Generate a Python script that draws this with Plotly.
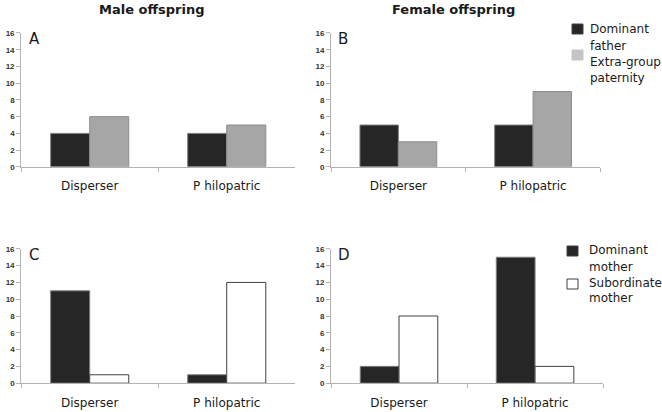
import plotly.graph_objects as go
from plotly.subplots import make_subplots

categories = ["Disperser", "P hilopatric"]

# paternity (top row)
male_dom_father = [4, 4]
male_extra_group = [6, 5]
female_dom_father = [5, 5]
female_extra_group = [3, 9]

# maternity (bottom row)
male_dom_mother = [11, 1]
male_sub_mother = [1, 12]
female_dom_mother = [2, 15]
female_sub_mother = [8, 2]

panel_letters = ["A", "B", "C", "D"]
y_ticks = [0, 2, 4, 6, 8, 10, 12, 14, 16]

DARK = "#262626"
GREY = "#a6a6a6"
AXIS = "#b3b3b3"
FONT = "DejaVu Sans"
W, H = 662, 412

fig = make_subplots(rows=2, cols=2)

def add_pair(row, col, v1, v2, n1, n2, c2, line2):
    fig.add_trace(go.Bar(x=categories, y=v1, name=n1, marker=dict(color=DARK, line=dict(color="#7f7f7f", width=1)),
                         showlegend=False), row=row, col=col)
    fig.add_trace(go.Bar(x=categories, y=v2, name=n2, marker=dict(color=c2, line=dict(color=line2, width=1)),
                         showlegend=False), row=row, col=col)

add_pair(1, 1, male_dom_father, male_extra_group, "Dominant father", "Extra-group paternity", GREY, "#8c8c8c")
add_pair(1, 2, female_dom_father, female_extra_group, "Dominant father", "Extra-group paternity", GREY, "#8c8c8c")
add_pair(2, 1, male_dom_mother, male_sub_mother, "Dominant mother", "Subordinate mother", "white", "#404040")
add_pair(2, 2, female_dom_mother, female_sub_mother, "Dominant mother", "Subordinate mother", "white", "#404040")

# panel positions
xdoms = [[0.032, 0.446], [0.500, 0.907], [0.032, 0.446], [0.500, 0.911]]
ydoms = [[0.595, 0.920], [0.595, 0.920], [0.070, 0.396], [0.070, 0.396]]
for i in range(4):
    sfx = "" if i == 0 else str(i + 1)
    fig.layout["xaxis" + sfx].update(domain=xdoms[i], showline=True, linecolor=AXIS, linewidth=1, automargin=False,
                                    ticks="outside", tickson="boundaries", ticklen=4, tickcolor=AXIS,
                                    ticklabelstandoff=8,
                                    tickfont=dict(family=FONT, size=12, color="#1a1a1a"), showgrid=False)
    fig.layout["yaxis" + sfx].update(domain=ydoms[i], range=[0, 16], tickvals=y_ticks, showline=True,
                                    automargin=False,
                                    linecolor=AXIS, linewidth=1, ticks="outside", ticklen=4, tickcolor=AXIS,
                                    tickfont=dict(family="Liberation Sans", size=8, color="#333333", weight="bold"),
                                    showgrid=False, zeroline=False)
    fig.add_annotation(text=panel_letters[i], xref="x%s domain" % sfx, yref="y%s domain" % sfx,
                       x=0.02, y=1.035, xanchor="left", yanchor="top", showarrow=False,
                       font=dict(family=FONT, size=15, color="#1a1a1a"))

fig.add_annotation(text="<b>Male offspring</b>", xref="paper", yref="paper", x=151 / W, y=1.0,
                   xanchor="center", yanchor="top",
                   showarrow=False, font=dict(family=FONT, size=13, color="#1a1a1a"))
fig.add_annotation(text="<b>Female offspring</b>", xref="paper", yref="paper", x=453 / W, y=1.0,
                   xanchor="center", yanchor="top",
                   showarrow=False, font=dict(family=FONT, size=13, color="#1a1a1a"))

# hand-placed legends (two separate keys, one per row)
legend_squares = [
    # (left, top, fill, outline)
    (572, 24, DARK, "#404040"),
    (572, 50, "#c4c4c4", "#c4c4c4"),
    (567, 246, DARK, "#404040"),
    (567, 279, "white", "#404040"),
]
legend_lines = [
    # (text left, centre y, text)
    (588, 29, "Dominant"), (588, 46, "father"), (588, 62, "Extra-group"), (588, 78, "paternity"),
    (587, 250, "Dominant"), (587, 267, "mother"), (587, 283, "Subordinate"), (587, 298, "mother"),
]
for sx, sy, fill, outline in legend_squares:
    fig.add_shape(type="rect", xref="paper", yref="paper",
                  x0=sx / W, x1=(sx + 11) / W, y0=1 - (sy + 10) / H, y1=1 - sy / H,
                  fillcolor=fill, line=dict(color=outline, width=1))
for tx, ty, label in legend_lines:
    fig.add_annotation(text=label, xref="paper", yref="paper", x=tx / W, y=1 - ty / H,
                       xanchor="left", yanchor="middle", align="left", showarrow=False,
                       font=dict(family=FONT, size=12, color="#1a1a1a"))

fig.update_layout(
    width=W, height=H, margin=dict(l=0, r=0, t=0, b=0),
    paper_bgcolor="white", plot_bgcolor="white",
    barmode="group", bargap=0.43, bargroupgap=0,
)

# page body has a default margin; drop it so the figure starts at the window corner
fig.write_html("out.html", config={"displayModeBar": False},
               post_script="document.body.style.margin='0px';")
